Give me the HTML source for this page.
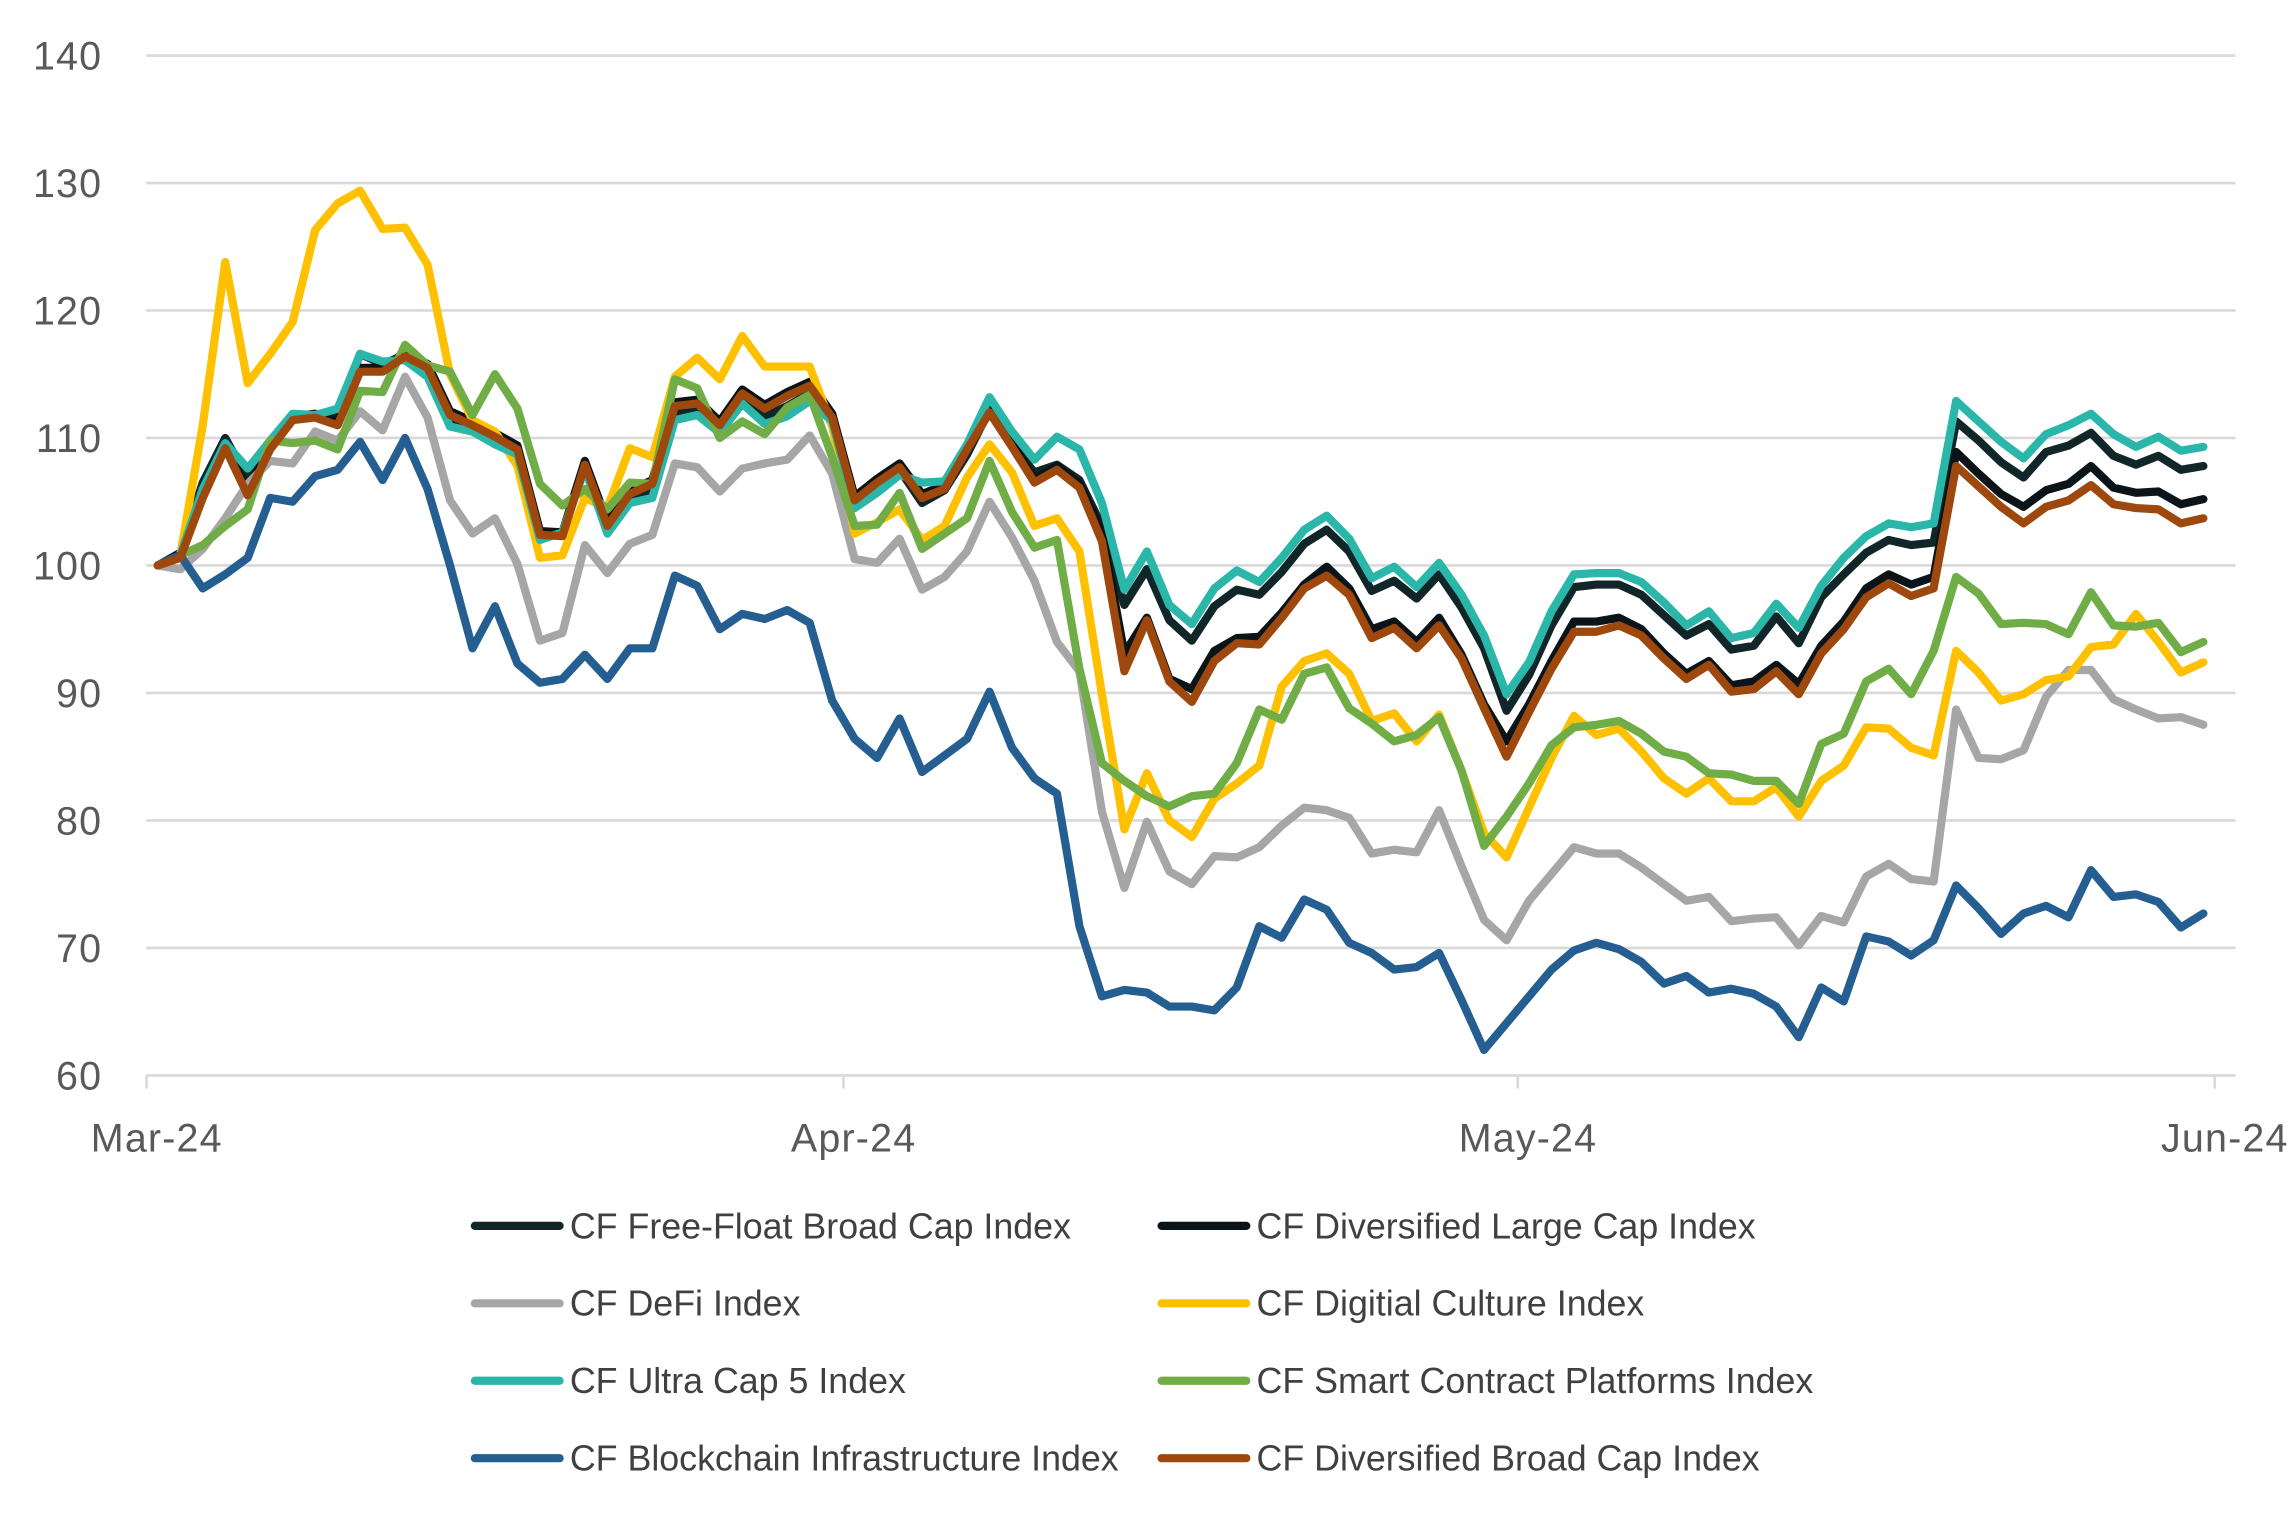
<!DOCTYPE html>
<html><head><meta charset="utf-8"><style>
html,body{margin:0;padding:0;background:#fff;}
svg{display:block;}
text{font-family:"Liberation Sans",sans-serif;}
</style></head>
<body>
<svg id="chart" width="2291" height="1526" viewBox="0 0 1568 1044.4" preserveAspectRatio="none" xmlns="http://www.w3.org/2000/svg">
<g id="grid"></g>
<g id="yaxis"></g>
<g id="xaxis"></g>
<g id="series"></g>
<g id="legend"></g>
</svg>
<script>
const yTicks = [60,70,80,90,100,110,120,130,140];
const monthLabels = ["Mar-24","Apr-24","May-24","Jun-24"];
const monthTickIndex = [-0.5,30.5,60.5,91.5];
const seriesNames = ["CF Free-Float Broad Cap Index","CF Diversified Large Cap Index","CF DeFi Index","CF Digitial Culture Index","CF Ultra Cap 5 Index","CF Smart Contract Platforms Index","CF Blockchain Infrastructure Index","CF Diversified Broad Cap Index"];
const seriesColors = ["#112628","#0b1419","#a6a6a6","#ffc000","#2ab7a9","#70ad47","#255e91","#9e480e"];

const freeFloat = [100,101,106.5,110,106.8,109.5,111.6,111.8,111.8,116.6,115.8,116.5,115,111.2,110.7,109.8,108.9,102.3,102.5,108,102.8,105.3,105.8,112,112.2,110.8,113.1,
111.7,112.5,113.5,111.4,105,106.3,107.5,104.9,105.9,108.7,112.2,109.5,107.3,107.9,106.7,
103.1,96.9,99.7,95.7,94.1,96.8,98.1,97.7,99.5,
101.7,102.8,101.1,98,98.8,97.4,99.3,96.7,93.5,88.6,91.4,95.3,98.3,98.5,98.5,97.7,96.1,94.5,95.4,93.4,
93.7,96,93.9,97.5,99.3,101,102,101.6,101.8,111.3,109.8,108.1,106.9,108.9,109.4,110.4,108.6,107.9,108.6,107.5,107.8];
const divBroad = [100,100.6,105.3,109.2,105.5,109.1,111.4,111.6,111,115.2,115.2,116.4,115.5,111.8,111,110.1,109.1,102.4,102.3,107.9,103.1,105.6,106.4,112.5,112.7,111,113.5,
112.3,113.3,114.1,111.6,105.1,106.5,107.7,105.3,106,109.1,112,109.3,106.5,107.5,106.1,101.9,91.7,95.7,90.9,89.3,92.5,93.9,93.8,95.9,
98.2,99.2,97.7,94.3,95.1,93.5,95.3,92.7,88.8,85,88.5,91.9,94.8,94.8,95.3,94.5,92.7,91.1,92.2,90.1,
90.3,91.7,89.9,93.1,95,97.5,98.6,97.6,98.2,107.8,106.2,104.6,103.3,104.6,105.1,106.3,104.8,104.5,104.4,103.3,103.7];
const divLarge = [100,100.9,105.6,109.5,105.8,109.4,111.7,111.9,111.3,115.5,115.5,116.7,115.8,112.1,111.3,110.4,109.4,102.7,102.6,108.2,103.4,105.9,106.7,112.8,113,111.3,113.8,
112.6,113.6,114.4,111.9,105.4,106.8,108,105.6,106.3,109.4,112.3,109.6,106.8,107.8,106.4,
102.7,93.1,95.9,91.1,90.3,93.3,94.3,94.4,96.3,
98.5,99.9,98.2,95,95.6,94,95.9,93,89.1,86.2,89.1,92.5,95.6,95.6,95.9,95,93.1,91.5,92.5,90.6,
90.9,92.2,90.7,93.7,95.6,98.2,99.3,98.5,99.1,108.9,107.2,105.6,104.6,105.9,106.4,107.8,106.1,105.7,105.8,104.8,105.2];
const defi = [100,99.7,101.3,103.7,106.4,108.2,108,110.5,109.8,112.1,110.6,114.8,111.6,105.1,102.5,103.7,100.1,94.1,94.7,101.6,99.4,101.7,102.4,108,107.7,105.8,107.6,
108,108.3,110.2,107.2,100.5,100.2,102.1,98.1,99.1,101.1,105,102.2,98.8,94,91.7,80.7,74.7,79.9,76,75,77.2,77.1,77.9,79.6,
81,80.8,80.2,77.4,77.7,77.5,80.8,76.4,72.2,70.6,73.7,75.8,77.9,77.4,77.4,76.3,75,73.7,74,72.1,
72.3,72.4,70.2,72.5,72,75.6,76.6,75.4,75.2,88.7,84.9,84.8,85.5,89.7,91.8,91.8,89.5,88.7,88,88.1,87.5];
const digital = [100,100.8,111,123.8,114.3,116.6,119.1,126.3,128.4,129.4,126.4,126.5,123.6,115,111.4,110.5,107.8,100.6,100.8,105.3,104.5,109.2,108.5,114.8,116.3,114.6,118,
115.6,115.6,115.6,110.9,102.5,103.4,104.4,102,103.1,106.9,109.5,107.3,103.1,103.7,101.1,89.9,79.3,83.7,80,78.7,81.7,82.9,84.3,90.5,
92.5,93.1,91.5,87.8,88.4,86.2,88.3,83.9,79,77.1,81,84.9,88.2,86.7,87.2,85.4,83.3,82.1,83.3,81.5,
81.5,82.6,80.3,83.1,84.3,87.3,87.2,85.7,85.1,93.3,91.6,89.4,89.9,91,91.3,93.6,93.8,96.2,94,91.6,92.4];
const ultra = [100,100.8,106,109.6,107.6,109.8,111.9,111.8,112.3,116.6,116,116.1,114.8,110.9,110.5,109.5,108.7,102,102.6,107.6,102.5,104.9,105.3,111.4,111.8,110.4,112.7,
111.1,111.7,112.9,111.3,104.5,105.7,107.1,106.5,106.6,109.5,113.2,110.5,108.3,110.1,109.1,104.9,98.1,101.1,96.9,95.4,98.2,99.6,98.7,100.6,
102.8,103.9,102.1,99,99.9,98.3,100.2,97.7,94.5,89.9,92.4,96.4,99.3,99.4,99.4,98.7,97.1,95.3,96.4,94.3,
94.7,97,95.1,98.4,100.6,102.3,103.3,103,103.3,112.9,111.3,109.7,108.4,110.3,111,111.9,110.3,109.3,110.1,109,109.3];
const smart = [100,100.8,101.6,103.1,104.4,109.8,109.6,109.8,109.1,113.7,113.6,117.3,115.7,115.2,111.8,115,112.3,106.4,104.7,106,104.4,106.5,106.4,114.6,113.9,110,111.3,
110.3,112.4,113.4,108.5,103.1,103.2,105.7,101.3,102.5,103.7,108.2,104.2,101.4,102,91.9,84.5,83.1,81.9,81.1,81.9,82.1,84.5,88.7,87.9,
91.5,92,88.8,87.6,86.2,86.7,88.1,83.9,78,80.3,82.9,85.9,87.3,87.5,87.8,86.8,85.4,85,83.7,83.6,
83.1,83.1,81.3,86,86.8,90.9,91.9,89.9,93.3,99.1,97.8,95.4,95.5,95.4,94.6,97.9,95.3,95.2,95.5,93.2,94];
const blockchain = [100,100.8,98.2,99.3,100.6,105.3,105,107,107.5,109.7,106.7,110,106,100,93.5,96.8,92.3,90.8,91.1,93,91.1,93.5,93.5,99.2,98.4,95,96.2,
95.8,96.5,95.5,89.4,86.4,84.9,88,83.8,85.1,86.4,90.1,85.7,83.3,82.1,71.7,66.2,66.7,66.5,65.4,65.4,65.1,66.9,71.7,70.8,
73.8,73,70.4,69.6,68.3,68.5,69.6,65.9,62,64.1,66.2,68.3,69.8,70.4,69.9,68.9,67.2,67.8,66.5,66.8,
66.4,65.4,63,66.9,65.8,70.9,70.5,69.4,70.6,74.9,73.1,71.1,72.7,73.3,72.4,76.1,74,74.2,73.6,71.6,72.7];
const seriesData = [freeFloat, divLarge, defi, digital, ultra, smart, blockchain, divBroad];

const NS = "http://www.w3.org/2000/svg";
const X0 = 108, DX = 15.385, YTOP = 38, YMAX = 140, YMIN = 60, YBOT = 736;
function xPos(i){ return X0 + i*DX; }
function yPos(v){ return YBOT - (v - YMIN) / (YMAX - YMIN) * (YBOT - YTOP); }
function mk(tag, attrs, parent){ const e = document.createElementNS(NS, tag); for (const k in attrs) e.setAttribute(k, attrs[k]); parent.appendChild(e); return e; }

const grid = document.getElementById('grid');
const yaxis = document.getElementById('yaxis');
yTicks.forEach(t => {
  if (t !== YMIN) {
    const l = mk('line', {x1:100, x2:1530, y1:yPos(t), y2:yPos(t), stroke:'#d9d9d9', 'stroke-width':1.8}, grid);
    
    
  }
  const tx = mk('text', {x:70, y:yPos(t)+9.5, 'text-anchor':'end', 'font-size':27, 'letter-spacing':0.8, fill:'#595959'}, yaxis);
  tx.textContent = t;
  
  
});

const xaxis = document.getElementById('xaxis');
const axl = mk('line', {x1:100, x2:1530, y1:YBOT, y2:YBOT, stroke:'#d9d9d9', 'stroke-width':1.8}, xaxis);


monthTickIndex.forEach((ti, k) => {
  const x = xPos(ti);
  const tk = mk('line', {x1:x, x2:x, y1:YBOT, y2:YBOT+9, stroke:'#d9d9d9', 'stroke-width':1.8}, xaxis);
  
  
  const tx = mk('text', {x:x+7, y:788, 'text-anchor':'middle', 'font-size':27, 'letter-spacing':0.8, fill:'#595959'}, xaxis);
  tx.textContent = monthLabels[k];
  
  
});

const sg = document.getElementById('series');
seriesData.forEach((arr, s) => {
  const pts = arr.map((v, i) => xPos(i).toFixed(2) + ',' + yPos(v).toFixed(2)).join(' ');
  const p = mk('polyline', {points:pts, fill:'none', stroke:seriesColors[s], 'stroke-width':5.6, 'stroke-linejoin':'round', 'stroke-linecap':'round'}, sg);
  
  
});

const lg = document.getElementById('legend');
seriesNames.forEach((n, s) => {
  const col = s % 2, row = Math.floor(s / 2);
  const sx = col === 0 ? 322 : 792, y = 839 + row * 53;
  const g = mk('g', {}, lg);
  
  
  mk('line', {x1:sx+3, x2:sx+61, y1:y, y2:y, stroke:seriesColors[s], 'stroke-width':5.6, 'stroke-linecap':'round'}, g);
  const t = mk('text', {x:sx+68, y:y+8.5, 'font-size':24.5, fill:'#404040'}, g);
  t.textContent = n;
});
</script>
</body></html>
